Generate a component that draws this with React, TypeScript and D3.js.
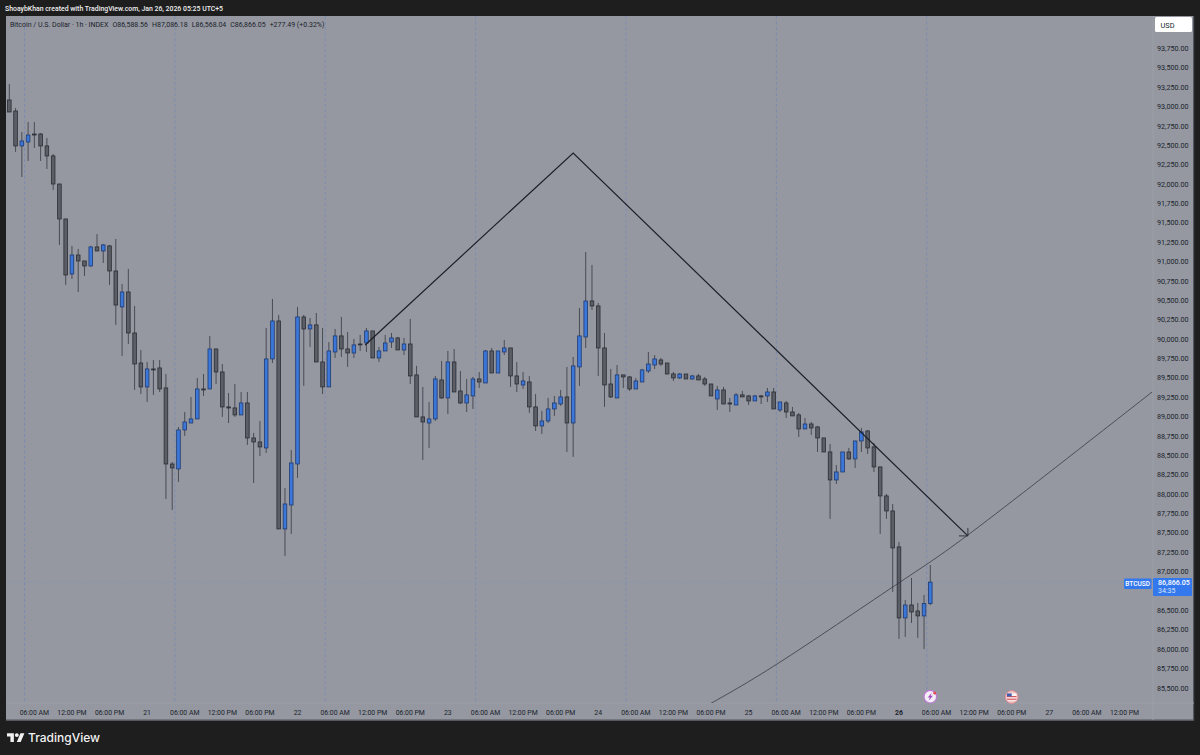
import React from "react";
import * as d3 from "d3";

const highs = [93292,92983,92673,92802,92802,92660,92596,92389,92002,91551,91203,91164,91009,91203,91357,91228,91216,91293,90712,90906,90429,89861,89706,89732,89732,89551,88416,88868,89061,89255,89500,89551,90042,89874,89680,89306,89422,89319,89319,88790,88945,90145,90519,90313,88081,88571,90416,90313,90274,90338,90145,89964,90132,90287,90093,90003,90055,90145,90106,89900,90055,90080,90029,90016,90261,89655,89384,89190,89526,89719,89848,89874,89590,89487,89513,89577,89861,89887,89848,89990,89887,89706,89577,89526,89293,89075,89242,89268,89345,89642,89771,90403,91125,90958,90467,90080,89616,89667,89539,89526,89500,89616,89835,89796,89758,89693,89577,89564,89551,89539,89551,89513,89422,89397,89384,89242,89306,89332,89281,89281,89281,89371,89371,89190,89203,89126,89049,88984,88932,88881,88726,88649,88377,88545,88597,88687,88855,88829,88661,88352,88004,87874,87384,86636,86920,86597,86700,87086];
const opens = [93086,92944,92493,92544,92647,92647,92493,92364,92002,91551,90841,91086,91009,90945,91190,91138,91203,90880,90416,90609,90080,89693,89384,89616,89629,89371,88390,88326,88829,88919,88971,89358,89358,89874,89577,89126,89113,89023,89177,88726,88674,88597,89745,90235,87552,87861,88390,90287,90132,90184,89706,89384,89835,90042,89874,89822,89938,89951,90106,89758,89848,89964,90016,89861,89938,89539,88997,88919,88971,89474,89242,89706,89332,89177,89268,89487,89435,89848,89564,89835,89887,89526,89409,89448,89126,88881,88945,89100,89164,89255,88919,89642,90029,90493,90429,89887,89422,89242,89539,89513,89358,89448,89590,89667,89732,89693,89551,89500,89551,89487,89526,89487,89422,89229,89345,89177,89151,89281,89268,89203,89268,89268,89319,89087,89177,89061,89023,88842,88906,88868,88726,88545,88184,88287,88545,88455,88687,88816,88610,88352,87978,87784,87320,86404,86571,86494,86430,86589];
const lows = [92931,92415,92093,92299,92467,92299,92196,91925,91215,90700,90777,90609,90815,90932,91138,90983,90700,90184,89784,89938,89345,89293,89190,89281,89319,87939,87797,88158,88752,88919,88971,89268,89358,89422,88997,88919,88997,89023,88636,88145,88494,88532,89693,87552,87204,87487,88210,89397,89900,89706,89293,89384,89758,89771,89642,89758,89848,89835,89758,89706,89848,89887,89861,89796,89422,88997,88442,88597,88945,89229,89036,89319,89164,89061,89100,89371,89435,89564,89564,89796,89384,89319,89358,89049,88816,88777,88919,89010,89139,88545,88481,89397,89887,90377,89526,89126,89242,89242,89371,89332,89358,89448,89564,89616,89655,89551,89461,89487,89487,89474,89474,89397,89268,89087,89164,89061,89151,89255,89151,89203,89164,89190,89100,89061,88984,89010,88739,88842,88765,88545,88545,87681,88132,88287,88442,88339,88545,88519,88287,87487,87681,86739,86133,86159,86339,86146,86004,86568];
const closes = [92931,92493,92557,92634,92634,92493,92364,92002,91551,90828,91086,91009,90945,91190,91138,91216,90880,90441,90609,90080,89680,89384,89616,89603,89358,88390,88339,88829,88932,88971,89358,89345,89874,89577,89126,89113,89023,89177,88726,88674,88610,89745,90235,87552,87874,88403,90287,90132,90184,89706,89384,89848,90042,89874,89822,89926,89926,90106,89758,89848,89951,90016,89861,89938,89526,88997,88932,88971,89487,89242,89706,89319,89177,89281,89487,89448,89848,89564,89848,89887,89526,89422,89461,89126,88881,88945,89100,89177,89255,88919,89655,90042,90493,90429,89887,89409,89255,89539,89513,89358,89461,89603,89680,89745,89680,89551,89500,89551,89487,89526,89474,89422,89268,89345,89164,89164,89281,89255,89203,89268,89255,89319,89100,89190,89061,89010,88842,88906,88855,88726,88545,88184,88287,88545,88455,88687,88803,88597,88352,87978,87784,87307,86404,86571,86481,86430,86589,86866];

const priceTicks = d3.range(85500, 93751, 250);
const timeLabels = ["06:00 AM","12:00 PM","06:00 PM","21","06:00 AM","12:00 PM","06:00 PM","22","06:00 AM","12:00 PM","06:00 PM","23","06:00 AM","12:00 PM","06:00 PM","24","06:00 AM","12:00 PM","06:00 PM","25","06:00 AM","12:00 PM","06:00 PM","26","06:00 AM","12:00 PM","06:00 PM","27","06:00 AM","12:00 PM"];
const timeLabelIndex = timeLabels.map((_, k) => 4 + 6 * k);
const sessionBreaks = [2.43, 26.43, 50.43, 74.43, 98.43, 122.43, 146.43];
const wedgeIndex = [56.8, 90, 153];
const wedgePrice = [89925, 92402, 87462];
const curveIndex = [111.8, 123.8, 142.2, 154.9, 182.4];
const curvePrice = [85294, 85875, 86868, 87590, 89319];
const lastPrice = 86866.05;

const BG = "#1e1e1f";
const PANEL = "#9598a1";
const INK = "#1a1f2b";
const FONT = "Roboto, 'Noto Sans', sans-serif";

export default function App() {
  const x = d3.scaleLinear().domain([0, 147]).range([9.3, 930.3]);
  const y = d3.scaleLinear().domain([85500, 93750]).range([688, 48.5]);
  const wedge = d3.line<number>().x((d) => x(wedgeIndex[d])).y((d) => y(wedgePrice[d]))(d3.range(wedgeIndex.length));
  const curve = d3.line<number>().x((d) => x(curveIndex[d])).y((d) => y(curvePrice[d])).curve(d3.curveNatural)(d3.range(curveIndex.length));
  const ax = x(wedgeIndex[2]);
  const ay = y(wedgePrice[2]);
  const lastY = y(lastPrice);
  return (
    <svg width={1200} height={755} style={{ position: "absolute", left: 0, top: 0, display: "block" }} fontFamily={FONT}>
      <rect width={1200} height={755} fill={BG} />
      <text x={5} y={10.8} fontSize={6.9} fontWeight={500} fill="#f0f0f0">ShoaybKhan created with TradingView.com, Jan 26, 2026 05:25 UTC+5</text>
      <defs>
        <clipPath id="plot"><rect x={6} y={16} width={1147} height={687} /></clipPath>
      </defs>
      <rect x={6} y={16} width={1188} height={704.5} fill={PANEL} />
      <rect x={6} y={719.5} width={1188} height={1.2} fill="#54565c" />
      <rect x={1193} y={16} width={1.2} height={704.5} fill="#54565c" />
      <line x1={1153} x2={1153} y1={16} y2={720} stroke="#9a9da6" strokeWidth={1} />
      <line x1={6} x2={1194} y1={703} y2={703} stroke="#9a9da6" strokeWidth={1} />
      <g clipPath="url(#plot)">
        {sessionBreaks.map((b) => (
          <line key={b} x1={x(b)} x2={x(b)} y1={16} y2={703} stroke="#7d8cb0" strokeWidth={1} strokeDasharray="3 2.5" />
        ))}
        <line x1={6} x2={1153} y1={lastY} y2={lastY} stroke="#7f93bd" strokeWidth={0.8} strokeDasharray="1 1.5" />
        {opens.map((o, i) => {
          const c = closes[i];
          const up = c >= o;
          const cx = x(i);
          const top = y(Math.max(o, c));
          const bot = y(Math.min(o, c));
          return (
            <g key={i}>
              <line x1={cx} x2={cx} y1={y(highs[i])} y2={y(lows[i])} stroke="#494c54" strokeWidth={1} />
              <rect x={cx - 1.8} y={top} width={3.6} height={Math.max(bot - top, 0.8)} fill={up ? "#3b77d9" : "#5b5e66"} stroke={up ? "#1f3a70" : "#2b2d33"} strokeWidth={0.8} />
            </g>
          );
        })}
        <path d={wedge ?? ""} fill="none" stroke="#1c1f28" strokeWidth={1.2} />
        <path d={`M${ax - 9},${ay}L${ax},${ay}L${ax},${ay - 8}`} fill="none" stroke="#2a2d35" strokeWidth={0.9} />
        <path d={curve ?? ""} fill="none" stroke="#33363e" strokeWidth={0.75} />
      </g>

      <rect x={1155} y={17} width={37} height={15} rx={1.5} fill="#ffffff" />
      <text x={1160.5} y={27.6} fontSize={7.4} fill={INK}>USD</text>
      {priceTicks.filter((p) => p !== 86750).map((p) => (
        <text key={p} x={1188.5} y={y(p)} dy="0.35em" textAnchor="end" fontSize={7.2} fill={INK}>{d3.format(",.2f")(p)}</text>
      ))}
      {timeLabels.map((t, k) => (
        <text key={k} x={x(timeLabelIndex[k])} y={712.4} dy="0.35em" textAnchor="middle" fontSize={6.9} fontWeight={t === "26" ? 700 : 400} fill={INK}>{t}</text>
      ))}

      <text x={10} y={26.5} fontSize={7} fill={INK}>
        Bitcoin / U.S. Dollar · 1h · INDEX
        <tspan dx={4}>O86,588.56</tspan>
        <tspan dx={4}>H87,086.18</tspan>
        <tspan dx={4}>L86,568.04</tspan>
        <tspan dx={4}>C86,866.05</tspan>
        <tspan dx={4}>+277.49 (+0.32%)</tspan>
      </text>

      <rect x={1124} y={578.5} width={27.5} height={10.5} rx={1} fill="#3478ee" />
      <text x={1137.7} y={583.8} dy="0.35em" textAnchor="middle" fontSize={6.6} fontWeight={500} fill="#fff">BTCUSD</text>
      <rect x={1153} y={578} width={39} height={18} rx={1} fill="#3478ee" />
      <text x={1158} y={582.8} dy="0.35em" fontSize={7.1} fontWeight={500} fill="#fff">86,866.05</text>
      <text x={1158} y={590.8} dy="0.35em" fontSize={7} fill="#dbe6fb">34:35</text>

      <g transform="translate(930.3,696.7)">
        <circle r={6.3} fill="#f4eef6" stroke="#c079d6" strokeWidth={1.2} />
        <path d="M1.5,-4L-2.6,0.8L-0.4,0.8L-1.6,4L2.6,-1L0.4,-1Z" fill="#a24bc0" />
        <circle cx={4.4} cy={-3.6} r={1.5} fill="#e5484d" />
      </g>
      <g transform="translate(1011.7,697)">
        <circle r={6.3} fill="#f3c9cc" stroke="#e88d93" strokeWidth={1} />
        <rect x={-4.8} y={-3.6} width={9.6} height={7.2} fill="#f7f4f4" />
        <rect x={-4.8} y={-1} width={9.6} height={1.2} fill="#d7575e" />
        <rect x={-4.8} y={1.6} width={9.6} height={1.2} fill="#d7575e" />
        <rect x={-4.8} y={-3.6} width={4.8} height={3} fill="#3f5fae" />
      </g>

      <g transform="translate(7,731.2) scale(0.49)" fill="#f2f2f2">
        <path d="M14 22H7V11H0V4h14v18zM28 22h-8l7.5-18h8L28 22z" />
        <circle cx={20} cy={8} r={4} />
      </g>
      <text x={28} y={742.4} fontSize={12} fontWeight={500} fontFamily="Inter, Roboto, sans-serif" fill="#f2f2f2">TradingView</text>
    </svg>
  );
}
